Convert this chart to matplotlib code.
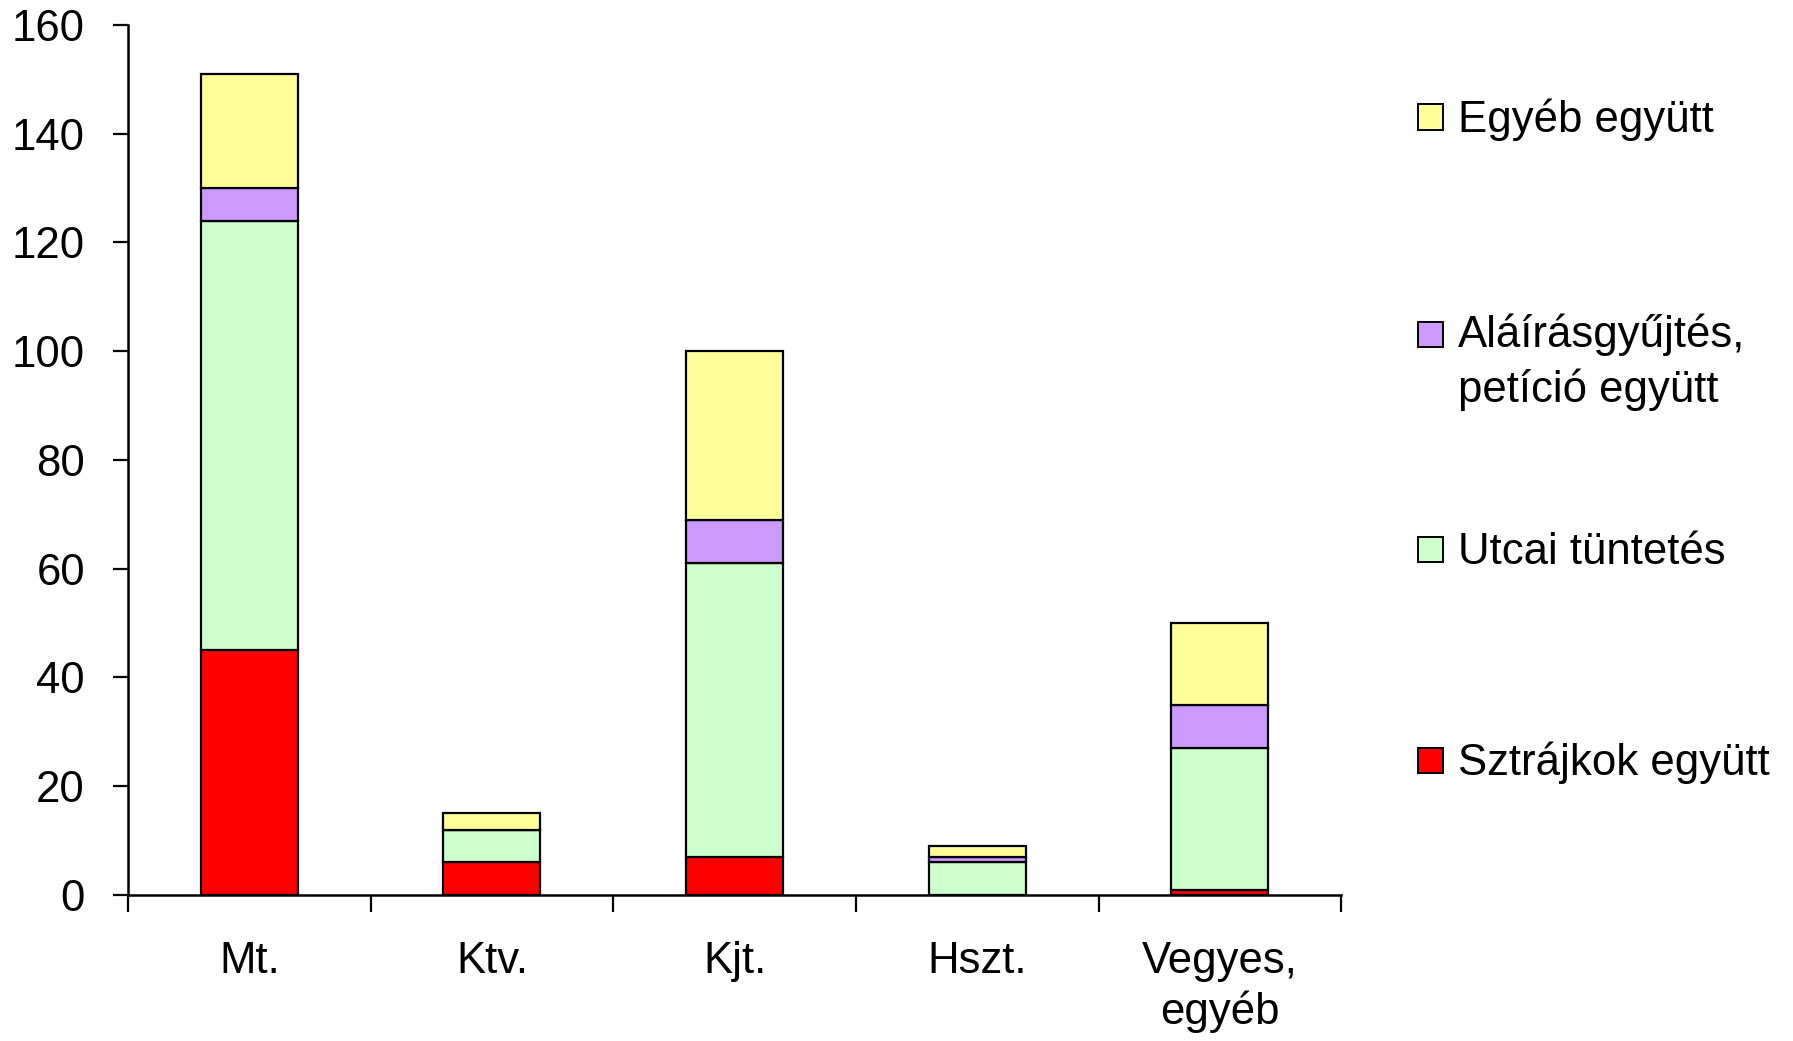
import numpy as np
import matplotlib
matplotlib.use("Agg")
import matplotlib.pyplot as plt
from matplotlib.patches import Rectangle

plt.rcParams['font.family'] = ['Liberation Sans', 'DejaVu Sans']

categories = ["Mt.", "Ktv.", "Kjt.", "Hszt.", "Vegyes,\negyéb"]
sztrajk   = [45, 6, 7, 0, 1]
utcai     = [79, 6, 54, 6, 26]
alairas   = [6, 0, 8, 1, 8]
egyeb     = [21, 3, 31, 2, 15]

series = [
    ("Sztrájkok együtt", sztrajk, "#FF0000"),
    ("Utcai tüntetés", utcai, "#CCFFCC"),
    ("Aláírásgyűjtés,\npetíció együtt", alairas, "#CC99FF"),
    ("Egyéb együtt", egyeb, "#FFFF99"),
]

FS = 31.5

fig = plt.figure(figsize=(17.93, 10.41), dpi=100)
ax = fig.add_axes([0.0714, 0.1403, 0.6766, 0.8357])

x = np.arange(len(categories))
bottom = np.zeros(len(categories))
for name, vals, col in series:
    vals = np.array(vals, dtype=float)
    ax.bar(x, vals, width=0.4, bottom=bottom, color=col,
           edgecolor="black", linewidth=1.6, zorder=3)
    bottom += vals

ax.set_xlim(-0.5, len(categories) - 0.5)
ax.set_ylim(0, 160)
ax.set_yticks(np.arange(0, 161, 20))

# category boundary ticks, labels in the middle
ax.set_xticks(np.arange(-0.5, len(categories), 1.0))
ax.set_xticklabels([])
ax.set_xticks(x, minor=True)
ax.set_xticklabels(categories, minor=True, fontsize=FS, linespacing=1.25)
ax.tick_params(axis="x", which="minor", length=0, pad=33)
ax.tick_params(axis="x", which="major", length=12, width=1.6)
ax.tick_params(axis="y", length=11, width=1.6, labelsize=FS, pad=20)

for s in ["top", "right"]:
    ax.spines[s].set_visible(False)
for s in ["left", "bottom"]:
    ax.spines[s].set_linewidth(1.8)

# legend drawn by hand, top entry first
W, H = 1793.0, 1041.0
centers = [117, 334, 549, 760]
size = 25
for (name, vals, col), cy in zip(series[::-1], centers):
    fig.patches.append(Rectangle((1418 / W, (H - cy - size / 2) / H), size / W, size / H,
                                 transform=fig.transFigure, facecolor=col,
                                 edgecolor="black", linewidth=1.4))
    if "\n" in name:
        fig.text(1458 / W, (H - cy + 20) / H, name, fontsize=FS, va="top", ha="left",
                 linespacing=1.35)
    else:
        fig.text(1458 / W, (H - cy - 3) / H, name, fontsize=FS, va="center", ha="left")

fig.savefig("out.png", dpi=100)
